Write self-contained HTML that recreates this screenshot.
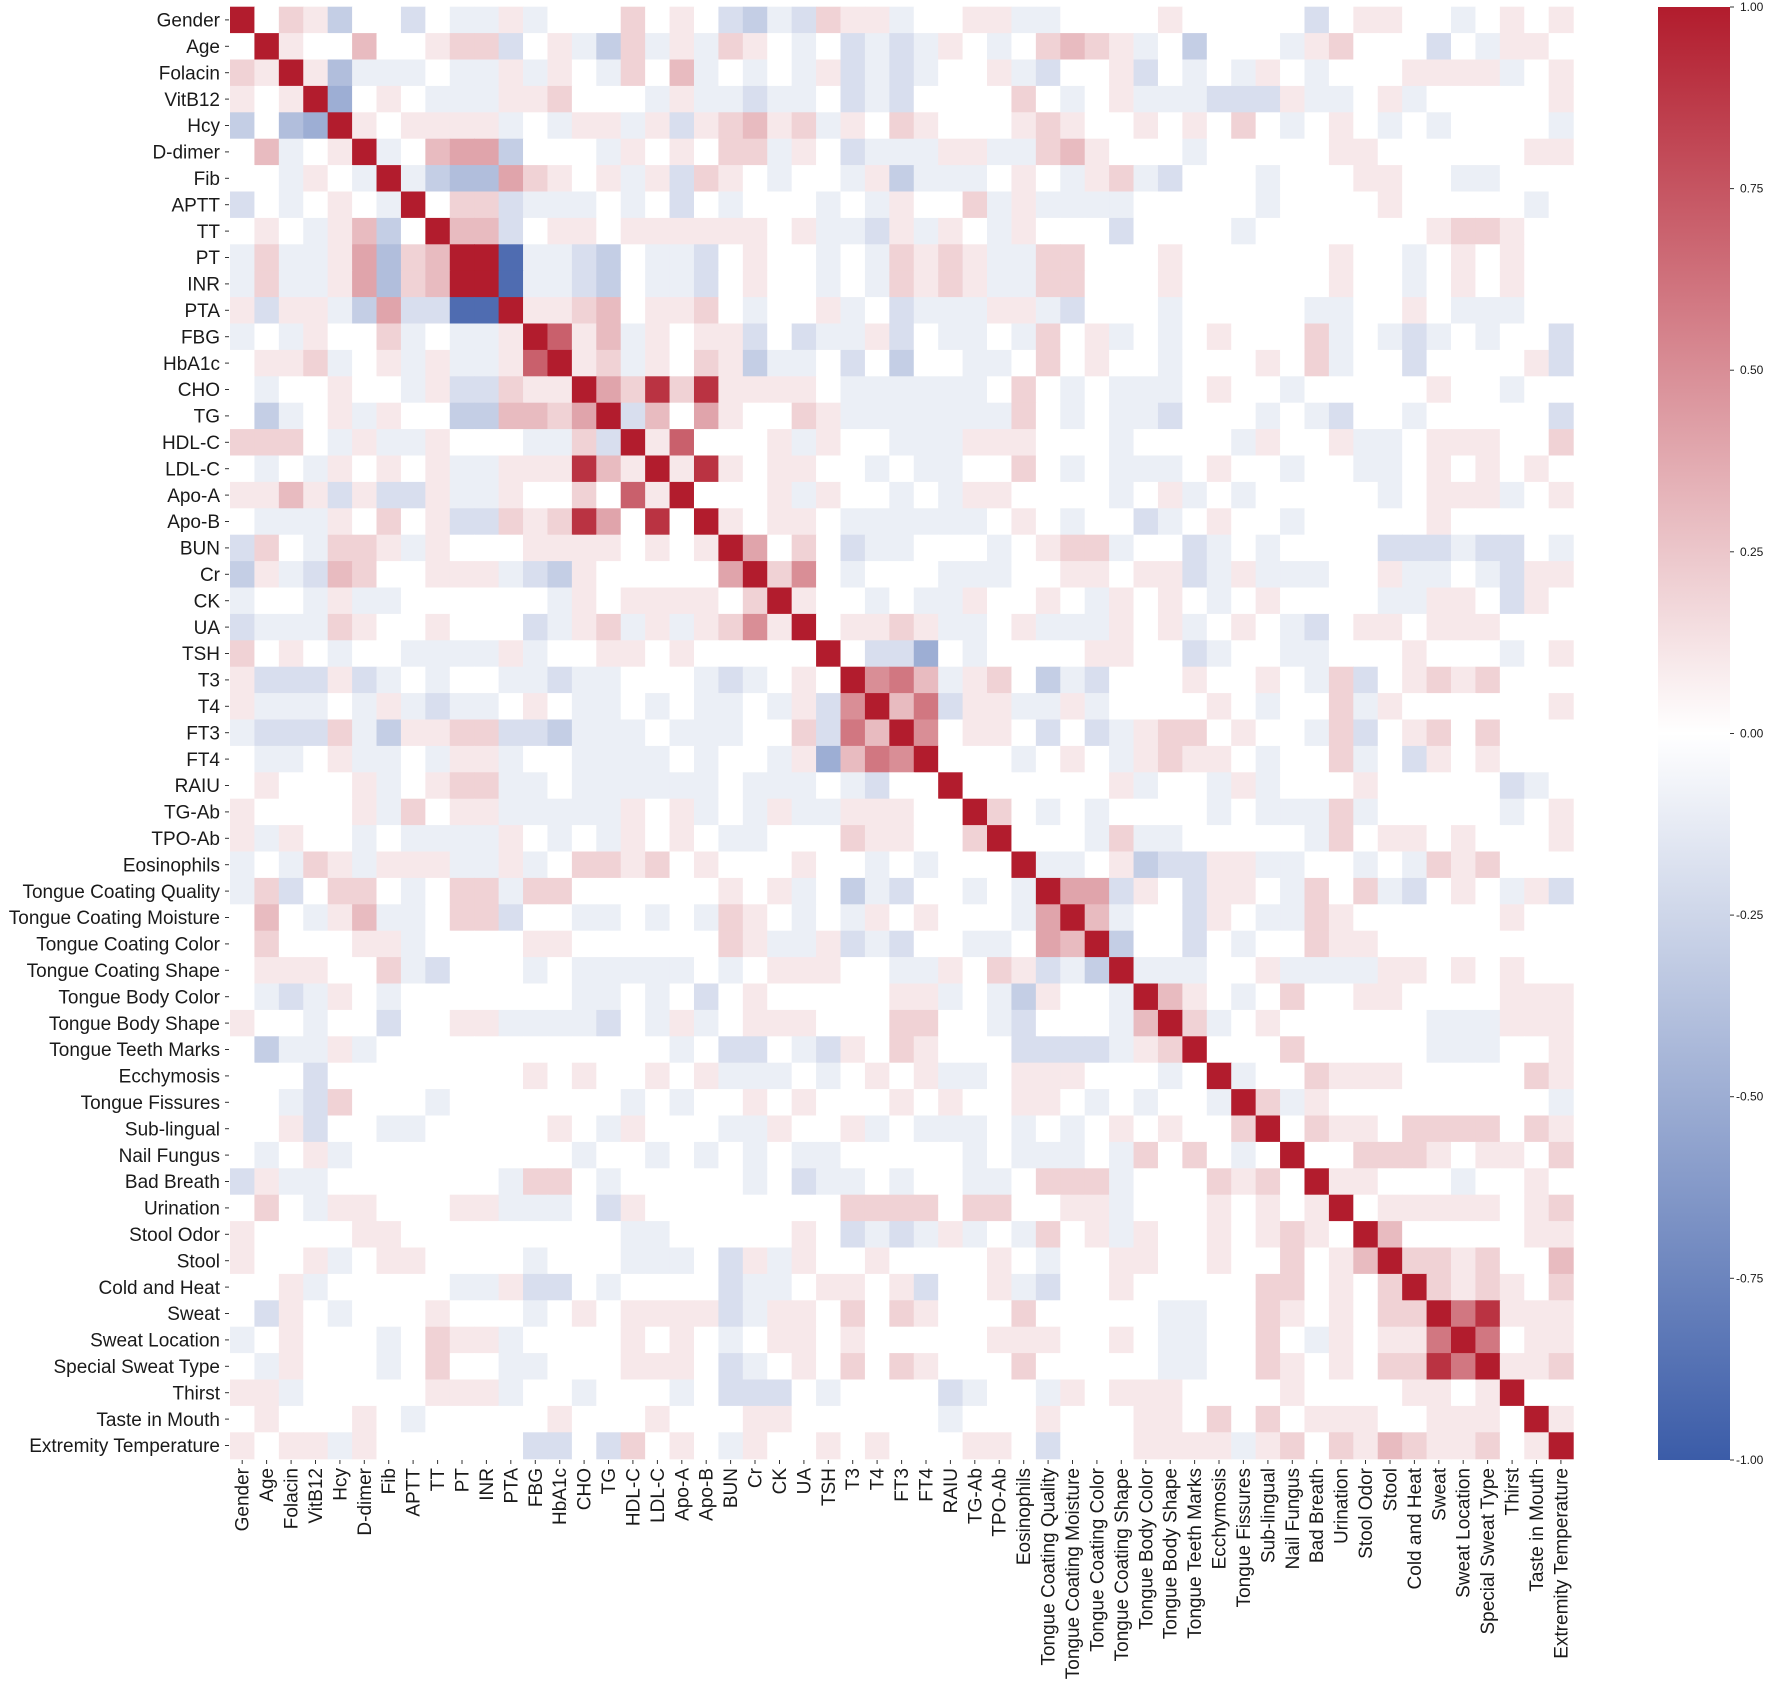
<!DOCTYPE html>
<html><head><meta charset="utf-8">
<style>
html,body{margin:0;padding:0;background:#fff;}
svg{display:block;}
text{font-family:"Liberation Sans",Arial,sans-serif;fill:#1a1a1a;}
</style></head>
<body>
<svg id="s" width="1772" height="1691" viewBox="0 0 1772 1691" xmlns="http://www.w3.org/2000/svg">
<defs>
<linearGradient id="cb" x1="0" y1="0" x2="0" y2="1">
<stop offset="0" stop-color="rgb(178,28,45)"/>
<stop offset="0.5" stop-color="#ffffff"/>
<stop offset="1" stop-color="rgb(59,92,168)"/>
</linearGradient>
</defs>
<g id="cells"></g>
<rect x="1658" y="7" width="72" height="1453" fill="url(#cb)"/>
<g id="cbt" font-size="12">
<text x="1740" y="11">1.00</text>
<text x="1740" y="192.6">0.75</text>
<text x="1740" y="374.2">0.50</text>
<text x="1740" y="555.8">0.25</text>
<text x="1740" y="737.5">0.00</text>
<text x="1736" y="919.1">-0.25</text>
<text x="1736" y="1100.7">-0.50</text>
<text x="1736" y="1282.3">-0.75</text>
<text x="1736" y="1464">-1.00</text>
</g>
<g id="cbticks" stroke="#333" stroke-width="1">
<line x1="1730" y1="7" x2="1734" y2="7"/><line x1="1730" y1="188.6" x2="1734" y2="188.6"/><line x1="1730" y1="370.2" x2="1734" y2="370.2"/><line x1="1730" y1="551.8" x2="1734" y2="551.8"/><line x1="1730" y1="733.5" x2="1734" y2="733.5"/><line x1="1730" y1="915.1" x2="1734" y2="915.1"/><line x1="1730" y1="1096.7" x2="1734" y2="1096.7"/><line x1="1730" y1="1278.3" x2="1734" y2="1278.3"/><line x1="1730" y1="1460" x2="1734" y2="1460"/>
</g>
<g id="ylab" font-size="19" text-anchor="end">
<text x="220" y="26.6">Gender</text>
<text x="220" y="53.0">Age</text>
<text x="220" y="79.4">Folacin</text>
<text x="220" y="105.8">VitB12</text>
<text x="220" y="132.2">Hcy</text>
<text x="220" y="158.6">D-dimer</text>
<text x="220" y="185.0">Fib</text>
<text x="220" y="211.4">APTT</text>
<text x="220" y="237.8">TT</text>
<text x="220" y="264.2">PT</text>
<text x="220" y="290.6">INR</text>
<text x="220" y="317.0">PTA</text>
<text x="220" y="343.4">FBG</text>
<text x="220" y="369.8">HbA1c</text>
<text x="220" y="396.2">CHO</text>
<text x="220" y="422.6">TG</text>
<text x="220" y="449.0">HDL-C</text>
<text x="220" y="475.4">LDL-C</text>
<text x="220" y="501.8">Apo-A</text>
<text x="220" y="528.2">Apo-B</text>
<text x="220" y="554.6">BUN</text>
<text x="220" y="581.0">Cr</text>
<text x="220" y="607.4">CK</text>
<text x="220" y="633.8">UA</text>
<text x="220" y="660.2">TSH</text>
<text x="220" y="686.6">T3</text>
<text x="220" y="713.0">T4</text>
<text x="220" y="739.4">FT3</text>
<text x="220" y="765.8">FT4</text>
<text x="220" y="792.2">RAIU</text>
<text x="220" y="818.6">TG-Ab</text>
<text x="220" y="845.0">TPO-Ab</text>
<text x="220" y="871.4">Eosinophils</text>
<text x="220" y="897.8">Tongue Coating Quality</text>
<text x="220" y="924.2">Tongue Coating Moisture</text>
<text x="220" y="950.6">Tongue Coating Color</text>
<text x="220" y="977.0">Tongue Coating Shape</text>
<text x="220" y="1003.4">Tongue Body Color</text>
<text x="220" y="1029.8">Tongue Body Shape</text>
<text x="220" y="1056.2">Tongue Teeth Marks</text>
<text x="220" y="1082.6">Ecchymosis</text>
<text x="220" y="1109.0">Tongue Fissures</text>
<text x="220" y="1135.4">Sub-lingual</text>
<text x="220" y="1161.8">Nail Fungus</text>
<text x="220" y="1188.2">Bad Breath</text>
<text x="220" y="1214.6">Urination</text>
<text x="220" y="1241.0">Stool Odor</text>
<text x="220" y="1267.4">Stool</text>
<text x="220" y="1293.8">Cold and Heat</text>
<text x="220" y="1320.2">Sweat</text>
<text x="220" y="1346.6">Sweat Location</text>
<text x="220" y="1373.0">Special Sweat Type</text>
<text x="220" y="1399.4">Thirst</text>
<text x="220" y="1425.8">Taste in Mouth</text>
<text x="220" y="1452.2">Extremity Temperature</text>
</g>
<g id="xlab" font-size="19" text-anchor="end"></g>
<g id="ticks" stroke="#333" stroke-width="1"></g>
</svg>
<script>
var names=["Gender","Age","Folacin","VitB12","Hcy","D-dimer","Fib","APTT","TT","PT","INR","PTA","FBG","HbA1c","CHO","TG","HDL-C","LDL-C","Apo-A","Apo-B","BUN","Cr","CK","UA","TSH","T3","T4","FT3","FT4","RAIU","TG-Ab","TPO-Ab","Eosinophils","Tongue Coating Quality","Tongue Coating Moisture","Tongue Coating Color","Tongue Coating Shape","Tongue Body Color","Tongue Body Shape","Tongue Teeth Marks","Ecchymosis","Tongue Fissures","Sub-lingual","Nail Fungus","Bad Breath","Urination","Stool Odor","Stool","Cold and Heat","Sweat","Sweat Location","Special Sweat Type","Thirst","Taste in Mouth","Extremity Temperature"];
var L=["","0","21","101","c0de","03a01","00a10a","b0a010a","010a13c0","a2aa14d23","a2aa14d23X","1b11ac4bbii","a0a1002a0aa1","0112a01a1aa17","0a00100a1bb211","0ca01a100cc3324","2220a1aa1000aa2b","0a0a10101aa111931","1131b1bb1aa1002071",
"0aaa10201bb21294090",
"b20a221a100011110101",
"c1ab3200111abc1000004",
"a00a1aa000000a10111102",
"baaa21001000ba12a1a1251",
"2010a00aaaa1a00110100000",
"1bbb1ba0a00aabaa000aba010",
"1aaa0a1abaa010aa0a0aa0a1b5",
"abbb2ac1122bbcaaa0aaa002b63",
"0aa01aa0a11a00aaaa0a00a1e365",
"010001a0122aa0aaaaaa0aaa0ab00",
"100001a2011aaaaa101a0a1aa11100",
"1a100a0aaaa10a0a1010aa000211002",
"a0a21a111aa1a0221201000100a0a000",
"a2b0220a022a22000000101a0cab00a0a",
"030a13aa022b00aa0a0a210a0a101000a4",
"0200011a00001100000021aa1bab00aa043",
"0111002ab000a0aaaaa0a011100aa1021bac",
"0aba10a0000000aa0a0b010000011a0ac100a",
"100a00b0011aaaab0a1a01110002200ab000a3",
"0caa1a000000000000a0bb0ab1021000bbbba12",
"000b0000000010100101aaa0a0101aa0111000a0",
"00ab2000a0000000a0a0010100010100110a0a00a",
"001b00aa0000010a1000aa1001a0aaa0a0a0101002",
"0a01a000000000a00a0a0a0aa00000a0aaa0a2020a0",
"b1aa0000000a220a00000a0baa0a00aa0222a0002120",
"020a1100011aaa0b10000000022220220011a00010101",
"1000011000000000aa0000010baba1a0a201a100101210",
"1001a0110000a000aaa0b1a1001000010a0011001002013",
"001a00000aa1bb0a0000baa01101b001ab00100000220102",
"0b10a0001000a0101111ba1102021000200000aa002101022",
"a01000a0211a00001010a0110100000111001 0aa0020a10116".replace(/ /g,""),
"0a1000a0200aa0001110ba0102021000200000aa00210102296",
"11a00000111a00a000a0bbb0a0000ba00a101110000100001101",
"0100010a000001000100011000000a00010001102020111001110",
"1011a1000000bb0b2010a100101000110b0001111a120213211201"];
var N=55,M=[];
for(var i=0;i<N;i++){M.push([]);for(var j=0;j<N;j++)M[i].push(0);M[i][i]=1;}
function cv(c){if(c==="X")return 1;var d="0123456789".indexOf(c);if(d>=0)return d/10;d="abcdefghi".indexOf(c);if(d>=0)return -(d+1)/10;return 0;}
for(var r=0;r<N;r++){var s=L[r]||"";for(var c=0;c<r&&c<s.length;c++){var v=cv(s[c]);M[r][c]=v;M[c][r]=v;}}
function col(v){var r,g,b;if(v>=0){r=255-77*v;g=255-227*v;b=255-210*v;}else{var t=-v;r=255-196*t;g=255-163*t;b=255-87*t;}return "rgb("+Math.round(r)+","+Math.round(g)+","+Math.round(b)+")";}
var ns="http://www.w3.org/2000/svg",x0=230,y0=6.7,cw=24.42,ch=26.4;
var g=document.getElementById("cells"),h="";
for(var i=0;i<N;i++)for(var j=0;j<N;j++){h+='<rect x="'+(x0+j*cw).toFixed(2)+'" y="'+(y0+i*ch).toFixed(2)+'" width="'+(cw+0.6).toFixed(2)+'" height="'+(ch+0.6).toFixed(2)+'" fill="'+col(M[i][j])+'"/>';}
g.innerHTML=h;
var t="";
for(var i=0;i<N;i++){var yc=y0+(i+0.5)*ch;t+='<line x1="225" y1="'+yc.toFixed(1)+'" x2="229" y2="'+yc.toFixed(1)+'"/>';var xc=x0+(i+0.5)*cw;t+='<line x1="'+xc.toFixed(1)+'" y1="1460" x2="'+xc.toFixed(1)+'" y2="1464"/>';}
document.getElementById("ticks").innerHTML=t;
</script>
<svg width="0" height="0" style="position:absolute"></svg>
<script>
(function(){var xl=document.getElementById("xlab"),h="";var x0=230,cw=24.42;
var labs=document.querySelectorAll("#ylab text");
for(var i=0;i<labs.length;i++){var xc=x0+(i+0.5)*cw+6.5;h+='<text transform="translate('+xc.toFixed(1)+',1468) rotate(-90)">'+labs[i].textContent+'</text>';}
xl.innerHTML=h;})();
</script>
</body></html>
